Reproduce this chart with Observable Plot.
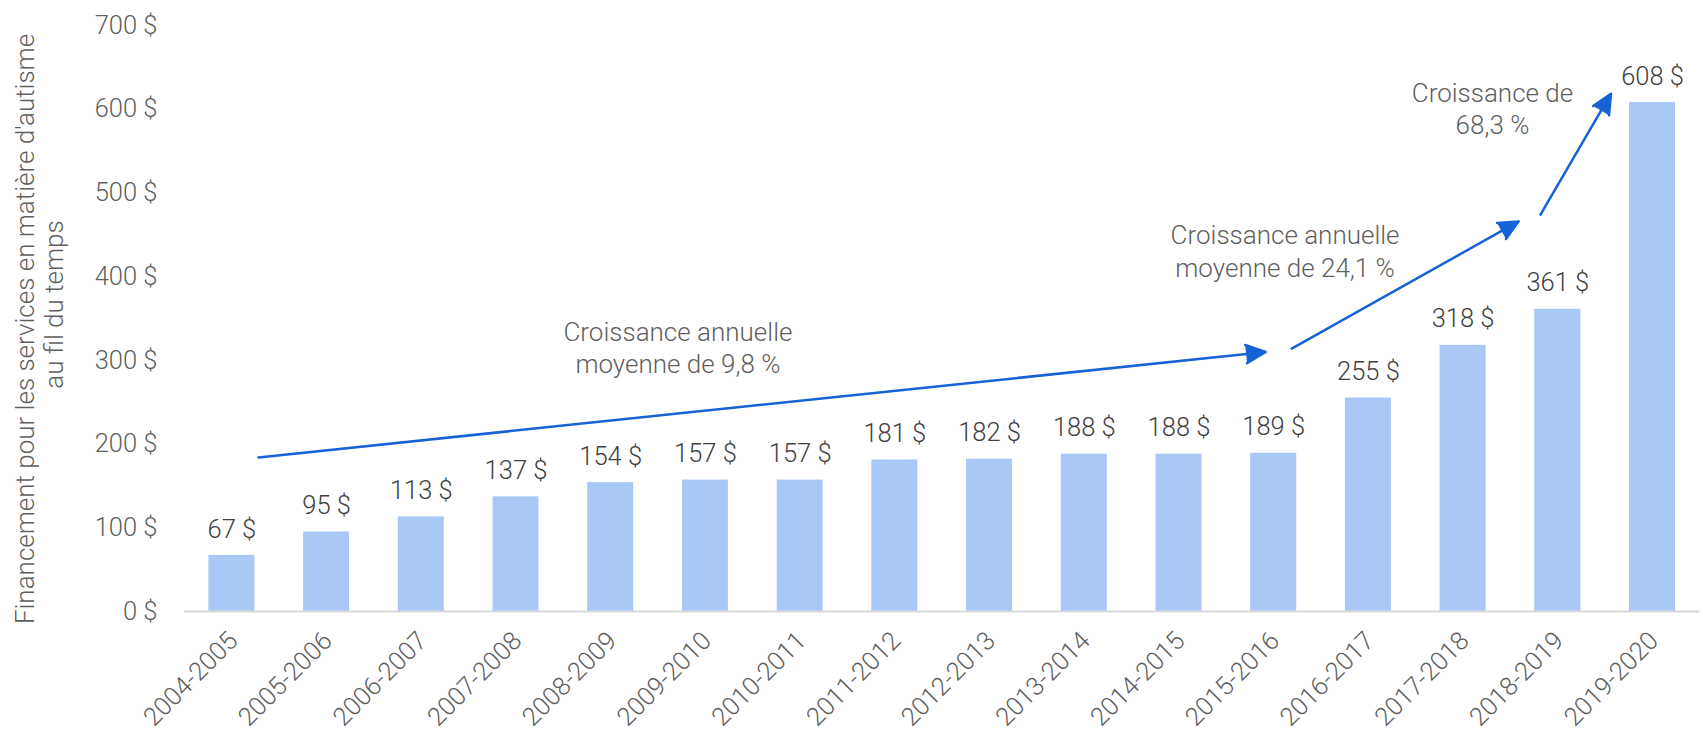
<!DOCTYPE html>
<html>
<head>
<meta charset="utf-8">
<script src="https://cdn.jsdelivr.net/npm/d3@7"></script>
<script src="https://cdn.jsdelivr.net/npm/@observablehq/plot@0.6"></script>
<style>
  html, body { margin: 0; padding: 0; background: #ffffff; }
</style>
</head>
<body>
<div id="chart"></div>
<script>
// ---- Data ----
const periods = ["2004-2005", "2005-2006", "2006-2007", "2007-2008", "2008-2009", "2009-2010",
  "2010-2011", "2011-2012", "2012-2013", "2013-2014", "2014-2015", "2015-2016",
  "2016-2017", "2017-2018", "2018-2019", "2019-2020"];
const values = [67, 95, 113, 137, 154, 157, 157, 181, 182, 188, 188, 189, 255, 318, 361, 608];
const yTicks = [0, 100, 200, 300, 400, 500, 600, 700];

// Trend arrows (x in period-index units, y in dollars)
const arrowX1 = [0.281, 11.19, 13.817];
const arrowY1 = [184, 314, 474];
const arrowX2 = [10.915, 13.586, 14.561];
const arrowY2 = [310, 466, 618.5];

// Annotation texts
const annX = [4.71, 11.12, 13.31];
const annY = [316.4, 432, 602];
const annText = ["Croissance annuelle\nmoyenne de 9,8 %", "Croissance annuelle\nmoyenne de 24,1 %", "Croissance de\n68,3 %"];

const titleLines = ["Financement pour les services en matière d'autisme", "au fil du temps"];

// ---- Tables ----
const bars = periods.map((p, i) => ({i, period: p, value: values[i]}));
const arrows = arrowX1.map((x1, k) => ({x1, y1: arrowY1[k], x2: arrowX2[k], y2: arrowY2[k]}));
const notes = annX.map((x, k) => ({x, y: annY[k], text: annText[k]}));

const BLUE = "#1563d6";
const GREY = "#5f5f5f";

const chart = Plot.plot({
  width: 1703,
  height: 738,
  marginLeft: 184,
  marginRight: 3.6,
  marginTop: 25,
  marginBottom: 127,
  style: {fontFamily: 'Roboto, "Liberation Sans", Arial, sans-serif', fontWeight: 300, fontSize: "25px", color: GREY, background: "#ffffff", overflow: "visible"},
  x: {type: "linear", domain: [-0.5, 15.5], axis: null},
  y: {domain: [0, 700], axis: null},
  marks: [
    Plot.rectY(bars, {x1: d => d.i - 0.5, x2: d => d.i + 0.5, y: "value", fill: "#aac8f6", insetLeft: 24.35, insetRight: 24.35}),
    Plot.ruleY([0], {stroke: "#d9d9d9", strokeWidth: 2}),
    Plot.axisX({ticks: d3.range(periods.length), tickFormat: i => periods[i], tickRotate: -45, tickSize: 0, tickPadding: 25, dx: 1.5, label: null, fill: GREY, fontSize: 25.5}),
    Plot.axisY({ticks: yTicks, tickFormat: d => `${d} $`, tickSize: 0, tickPadding: 27, label: null, fill: GREY, fontSize: 25.5}),
    Plot.text(bars, {x: "i", y: "value", text: d => `${d.value} $`, dy: -26, fill: "#404040", fontSize: 25.5}),
    Plot.arrow(arrows, {x1: "x1", y1: "y1", x2: "x2", y2: "y2", stroke: BLUE, fill: BLUE, strokeWidth: 2.5, headAngle: 50, headLength: 13}),
    Plot.text(notes, {x: "x", y: "y", text: "text", lineHeight: 1.26, fill: GREY, fontSize: 26}),
    Plot.text([titleLines[0]], {text: d => d, frameAnchor: "left", textAnchor: "middle", lineAnchor: "middle", rotate: -90, dx: -159, dy: 10.5, fill: GREY, fontSize: 26, ariaLabel: "title-line-1"}),
    Plot.text([titleLines[1]], {text: d => d, frameAnchor: "left", textAnchor: "middle", lineAnchor: "middle", rotate: -90, dx: -130.3, dy: -14, fill: GREY, fontSize: 26, ariaLabel: "title-line-2"})
  ]
});

d3.select(chart).select('g[aria-label="title-line-1"] text').attr("textLength", 595).attr("lengthAdjust", "spacingAndGlyphs");
d3.select(chart).select('g[aria-label="title-line-2"] text').attr("textLength", 188).attr("lengthAdjust", "spacingAndGlyphs");

document.getElementById("chart").appendChild(chart);
</script>
</body>
</html>
